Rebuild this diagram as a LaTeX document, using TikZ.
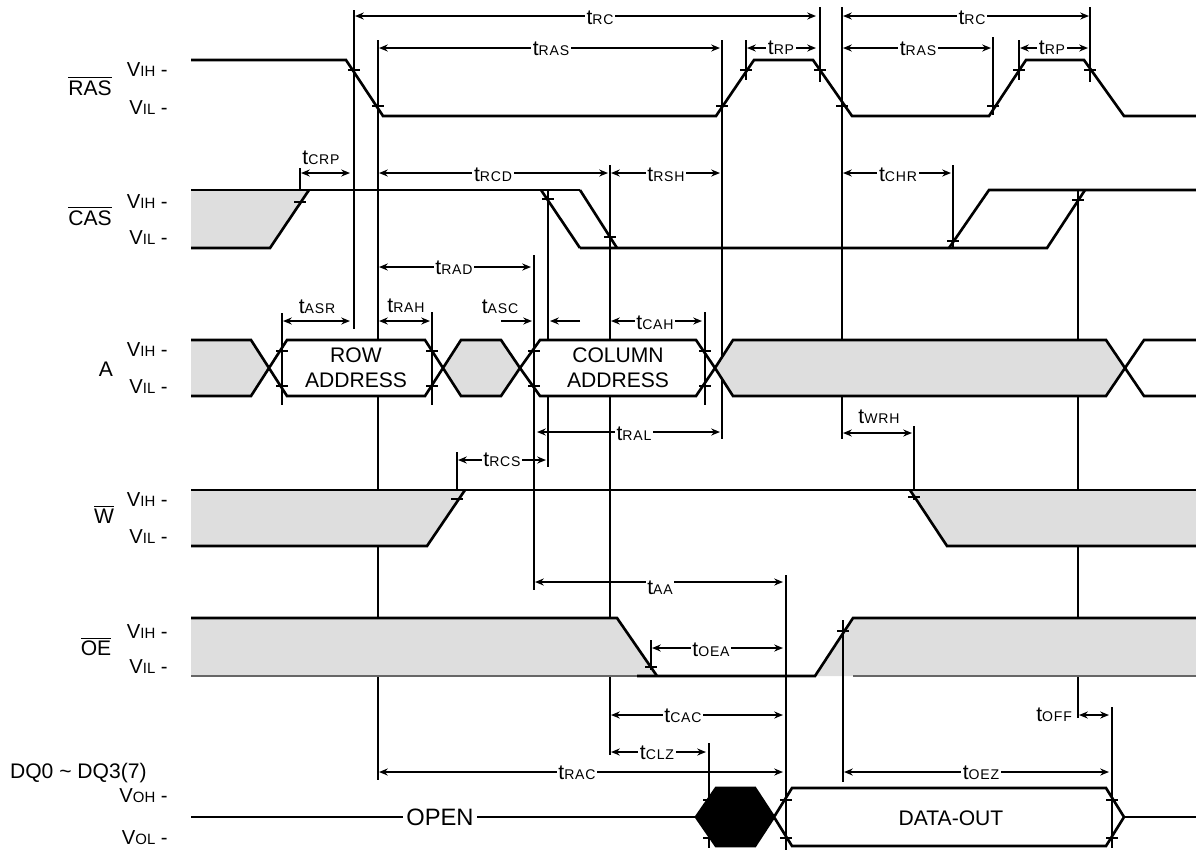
\documentclass[tikz,border=0pt]{standalone}
\usepackage{fontspec}
\setmainfont{Liberation Sans}
\usetikzlibrary{arrows.meta}

\newcommand{\tm}[1]{t{\fontsize{8pt}{9pt}\selectfont\addfontfeature{LetterSpace=6} #1}}
\newcommand{\lv}[1]{V{\fontsize{8.5pt}{9pt}\selectfont #1} -}
\newcommand{\ovl}[1]{$\overline{\mbox{#1}}$}

\begin{document}
\begin{tikzpicture}[x=0.02cm, y=-0.02cm,
  sig/.style={line width=1.5pt, line join=miter},
  vln/.style={line width=1.5pt},
  dim/.style={line width=1.4pt, {Stealth[length=5pt,width=4pt]}-{Stealth[length=5pt,width=4pt]}},
  half/.style={line width=1.4pt, -{Stealth[length=5pt,width=4pt]}},
  lab/.style={font=\fontsize{12pt}{14pt}\selectfont, fill=white, inner sep=1pt},
  txt/.style={font=\fontsize{12pt}{14pt}\selectfont, inner sep=1pt},
  lvl/.style={font=\fontsize{11.5pt}{13pt}\selectfont, anchor=east, inner sep=0pt},
  grey/.style={fill=black!13}]
\useasboundingbox (0,0) rectangle (1196,850);

% reference lines behind the waveforms
\foreach \x/\ya/\yb in {354/10/329, 378/40/780, 610/165/755, 722/40/439,
    820/7/82, 842/7/439, 1078/190/718, 1090/7/82, 548/190/467,
    746/40/80, 993/37/115, 1019/40/80, 300/168/205, 953/165/248,
    457/452/500, 914/426/500}
  \draw[vln] (\x,\ya) -- (\x,\yb);

% RAS
\draw[sig] (191,60) -- (346,60) -- (383,116) -- (716,116) -- (754,60) -- (813,60)
  -- (852,116) -- (989,116) -- (1026,60) -- (1084,60) -- (1124,116) -- (1196,116);

% CAS
\fill[grey] (191,190) -- (309,190) -- (270,248) -- (191,248) -- cycle;
\draw[sig] (191,190) -- (580,190);
\draw[sig] (191,248) -- (270,248) -- (309,190);
\draw[sig] (541,190) -- (580,248);
\draw[sig] (580,190) -- (617,248);
\draw[sig] (580,248) -- (1047,248) -- (1085,190);
\draw[sig] (949,248) -- (989,190) -- (1196,190);

% A
\fill[grey] (191,340) -- (251,340) -- (269,368) -- (251,396) -- (191,396) -- cycle;
\draw[sig] (191,340) -- (251,340) -- (269,368) -- (251,396) -- (191,396);
\draw[sig, fill=white] (269,368) -- (287,340) -- (425,340) -- (443,368) -- (425,396) -- (287,396) -- cycle;
\draw[sig, grey] (443,368) -- (461,340) -- (501,340) -- (520,368) -- (501,396) -- (461,396) -- cycle;
\draw[sig, fill=white] (520,368) -- (540,340) -- (696,340) -- (715,368) -- (696,396) -- (540,396) -- cycle;
\draw[sig, grey] (715,368) -- (733,340) -- (1106,340) -- (1125,368) -- (1106,396) -- (733,396) -- cycle;
\draw[sig] (1196,340) -- (1144,340) -- (1125,368) -- (1144,396) -- (1196,396);

% W
\fill[grey] (191,490) -- (465,490) -- (427,546) -- (191,546) -- cycle;
\fill[grey] (910,490) -- (1196,490) -- (1196,546) -- (947,546) -- cycle;
\draw[sig] (191,490) -- (1196,490);
\draw[sig] (191,546) -- (427,546) -- (465,490);
\draw[sig] (910,490) -- (947,546) -- (1196,546);

% OE
\fill[grey] (191,618) -- (617,618) -- (657,676) -- (191,676) -- cycle;
\fill[grey] (815,676) -- (853,618) -- (1196,618) -- (1196,676) -- cycle;
\draw[sig] (191,618) -- (617,618) -- (657,676);
\draw[sig] (637,676) -- (815,676) -- (853,618) -- (1196,618);
\draw[line width=0.9pt, black!60] (191,676) -- (637,676);
\draw[line width=0.9pt, black!60] (853,676) -- (1196,676);

% DQ
\draw[sig] (191,817) -- (696,817);
\draw[sig, fill=black] (696,817) -- (716,788) -- (755,788) -- (774,817) -- (755,846) -- (716,846) -- cycle;
\draw[sig, fill=white] (774,817) -- (792,788) -- (1106,788) -- (1124,817) -- (1106,846) -- (792,846) -- cycle;
\draw[sig] (1124,817) -- (1196,817);

% reference lines in front
\foreach \x/\ya/\yb in {534/255/590, 843/620/782, 282/313/405, 432/312/405,
    705/312/405, 651/640/670, 786/575/850, 1112/707/848, 709/743/848}
  \draw[vln] (\x,\ya) -- (\x,\yb);

% crossing marks
\foreach \x/\y in {354/70, 378/106, 722/106, 746/70, 820/70, 842/106, 993/106,
    1019/70, 1090/70, 300/202, 548/199, 610/237, 953/241, 1078/200,
    282/351, 282/386, 432/351, 432/386, 534/351, 534/386, 705/351, 705/386,
    457/499, 914/497, 651/667, 843/631,
    709/800, 709/838, 786/800, 786/838, 1112/800, 1112/838}
  \draw[vln] (\x-6,\y) -- (\x+6,\y);

% timing arrows
\draw[dim] (355,16) -- (816,16);
\draw[dim] (379,48) -- (720,48);
\draw[dim] (747,48) -- (816,48);
\draw[dim] (843,16) -- (1089,16);
\draw[dim] (843,48) -- (991,48);
\draw[dim] (1020,48) -- (1088,48);
\draw[dim] (301,173) -- (350,173);
\draw[dim] (379,173) -- (608,173);
\draw[dim] (611,173) -- (720,173);
\draw[dim] (843,173) -- (951,173);
\draw[dim] (379,267) -- (531,267);
\draw[dim] (283,321) -- (350,321);
\draw[dim] (379,321) -- (430,321);
\draw[half] (501,321) -- (532,321);
\draw[half] (580,321) -- (550,321);
\draw[dim] (611,321) -- (702,321);
\draw[dim] (537,432) -- (720,432);
\draw[dim] (843,433) -- (912,433);
\draw[dim] (458,460) -- (546,460);
\draw[dim] (535,582) -- (783,582);
\draw[dim] (652,648) -- (783,648);
\draw[dim] (611,715) -- (783,715);
\draw[dim] (1079,715) -- (1109,715);
\draw[dim] (611,752) -- (706,752);
\draw[dim] (379,772) -- (783,772);
\draw[dim] (844,772) -- (1109,772);

% timing labels
\node[lab] (trc1)  at (600,18)  {\tm{RC}};
\node[lab] (tras1) at (551,49)  {\tm{RAS}};
\node[lab] (trp1)  at (781,48)  {\tm{RP}};
\node[lab] (trc2)  at (972,18)  {\tm{RC}};
\node[lab] (tras2) at (918,49)  {\tm{RAS}};
\node[lab] (trp2)  at (1052,48) {\tm{RP}};
\node[txt] (tcrp)  at (321,158) {\tm{CRP}};
\node[lab] (trcd)  at (493,175) {\tm{RCD}};
\node[lab] (trsh)  at (666,175) {\tm{RSH}};
\node[lab] (tchr)  at (898,175) {\tm{CHR}};
\node[lab] (trad)  at (454,268) {\tm{RAD}};
\node[txt] (tasr)  at (317,307) {\tm{ASR}};
\node[txt] (trah)  at (406,306) {\tm{RAH}};
\node[txt] (tasc)  at (500,307) {\tm{ASC}};
\node[lab] (tcah)  at (655,323) {\tm{CAH}};
\node[lab] (tral)  at (634,434) {\tm{RAL}};
\node[txt] (twrh)  at (879,417) {\tm{WRH}};
\node[lab] (trcs)  at (502,460) {\tm{RCS}};
\node[lab] (taa)   at (660,588) {\tm{AA}};
\node[lab] (toea)  at (711,650) {\tm{OEA}};
\node[lab] (tcac)  at (683,716) {\tm{CAC}};
\node[txt, anchor=east] (toff) at (1074,715) {\tm{OFF}};
\node[lab] (tclz)  at (657,753) {\tm{CLZ}};
\node[lab] (trac)  at (577,773) {\tm{RAC}};
\node[lab] (toez)  at (981,773) {\tm{OEZ}};

% data texts
\node[txt, align=center] (rowad) at (356,368) {ROW\\ADDRESS};
\node[txt, align=center] (colad) at (618,368) {COLUMN\\ADDRESS};
\node[lab, font=\fontsize{13.5pt}{15pt}\selectfont, inner sep=2pt] (open) at (440,817) {OPEN};
\node[txt] (dout) at (951,818) {DATA-OUT};

% signal names and levels
\node[txt] (ras) at (90,86)  {\ovl{RAS}};
\node[txt] (cas) at (90,216) {\ovl{CAS}};
\node[txt] (adr) at (106,369) {A};
\node[txt] (wen) at (104,514) {\ovl{W}};
\node[txt] (oen) at (96,646) {\ovl{OE}};
\node[txt, anchor=west] (dq) at (8,773) {DQ0 \textasciitilde{} DQ3(7)};
\node[lvl] (rash) at (168,70)  {\lv{IH}};
\node[lvl] (rasl) at (168,108) {\lv{IL}};
\node[lvl] (cash) at (168,202) {\lv{IH}};
\node[lvl] (casl) at (168,238) {\lv{IL}};
\node[lvl] (adh)  at (168,350) {\lv{IH}};
\node[lvl] (adl)  at (168,387) {\lv{IL}};
\node[lvl] (wh)   at (168,500) {\lv{IH}};
\node[lvl] (wl)   at (168,537) {\lv{IL}};
\node[lvl] (oeh)  at (168,632) {\lv{IH}};
\node[lvl] (oel)  at (168,667) {\lv{IL}};
\node[lvl] (dqh)  at (168,796) {\lv{OH}};
\node[lvl] (dql)  at (168,838) {\lv{OL}};
\end{tikzpicture}
\end{document}
